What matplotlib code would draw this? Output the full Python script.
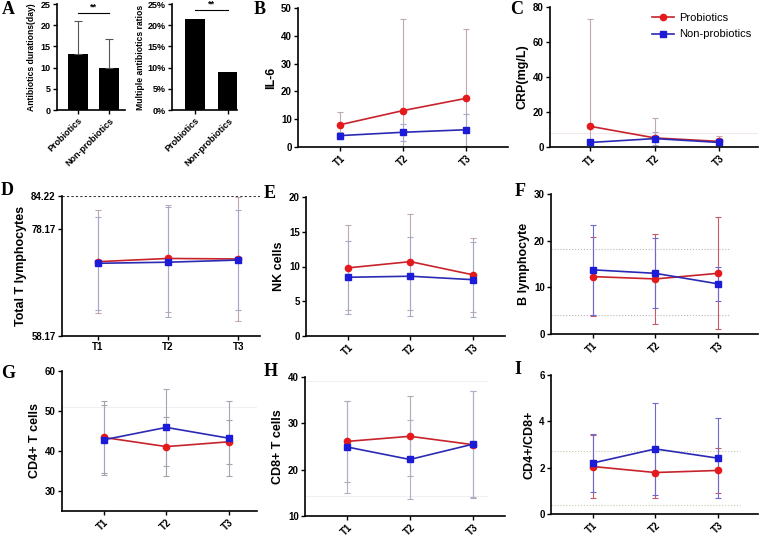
import matplotlib
matplotlib.use("Agg")
import matplotlib.pyplot as plt
import numpy as np

plt.rcParams['font.family'] = ['Liberation Sans', 'DejaVu Sans']
plt.rcParams['font.weight'] = 'bold'

W, H = 761, 536

groups = ['Probiotics', 'Non-probiotics']
times = ['T1', 'T2', 'T3']

# panel A
abx_days = [13.1, 9.9]
abx_days_sd = [8.0, 6.9]
multi_abx = [21.4, 9.0]

# panel B - IL-6
il6_pro = [8.0, 13.1, 17.5]
il6_pro_sd = [4.5, 32.9, 25.1]
il6_non = [4.1, 5.3, 6.2]
il6_non_sd = [1.2, 3.0, 5.8]

# panel C - CRP
crp_pro = [11.8, 5.2, 3.2]
crp_pro_sd = [61.5, 11.3, 2.9]
crp_non = [2.6, 4.8, 2.6]
crp_non_sd = [1.5, 3.8, 1.5]

# panel D - total T lymphocytes
tl_pro = [72.0, 72.6, 72.5]
tl_pro_sd = [9.6, 9.9, 11.6]
tl_non = [71.7, 71.9, 72.3]
tl_non_sd = [8.7, 10.2, 9.3]

# panel E - NK
nk_pro = [9.8, 10.7, 8.8]
nk_pro_sd = [6.1, 6.9, 5.3]
nk_non = [8.45, 8.6, 8.1]
nk_non_sd = [5.25, 5.7, 5.4]

# panel F - B lymphocyte
bl_pro = [12.3, 11.8, 13.0]
bl_pro_sd = [8.4, 9.6, 12.0]
bl_non = [13.75, 13.0, 10.75]
bl_non_sd = [9.65, 7.5, 3.7]

# panel G - CD4+
cd4_pro = [43.4, 41.1, 42.3]
cd4_pro_sd = [9.0, 7.4, 5.5]
cd4_non = [42.8, 45.9, 43.2]
cd4_non_sd = [8.7, 9.6, 9.4]

# panel H - CD8+
cd8_pro = [26.1, 27.2, 25.4]
cd8_pro_sd = [8.8, 8.6, 11.6]
cd8_non = [24.9, 22.2, 25.5]
cd8_non_sd = [9.9, 8.6, 11.5]

# panel I - CD4+/CD8+
ratio_pro = [2.05, 1.79, 1.88]
ratio_pro_sd = [1.35, 1.1, 0.96]
ratio_non = [2.2, 2.81, 2.41]
ratio_non_sd = [1.27, 1.97, 1.73]

RED_L, RED_M = '#c8232c', '#e41a1c'
BLUE_L, BLUE_M = '#2a2ab4', '#1c1cd8'
RED_E, BLUE_E = '#c85a66', '#6a6ad0'
GREY_RE, GREY_BE = '#c0a8b0', '#aaa8c8'

fig = plt.figure(figsize=(W / 100, H / 100), dpi=100)


def make_ax(x0, x1, yt, yb):
    ax = fig.add_axes([x0 / W, 1 - yb / H, (x1 - x0) / W, (yb - yt) / H])
    for s in ['top', 'right']:
        ax.spines[s].set_visible(False)
    for s in ['left', 'bottom']:
        ax.spines[s].set_linewidth(1.2)
    ax.tick_params(width=1.0, length=3, labelsize=7, pad=1.5)
    return ax


def panel_letter(x, y, s):
    fig.text(x / W, 1 - y / H, s, family='Liberation Serif', fontsize=13,
             fontweight='bold', ha='center', va='center')


def line_panel(ax, pro, pro_sd, non, non_sd, ylim, yticks, ylabel, xlim,
               ecols=(GREY_RE, GREY_BE), rotate=True, refs=(), ref_style=':',
               ref_color='#b0b0b0', ref_end=None):
    x = np.arange(1, 4)
    for r in refs:
        ax.plot([xlim[0], ref_end if ref_end else xlim[1]], [r, r], ls=ref_style,
                color=ref_color, lw=0.8, zorder=0)
    ax.errorbar(x, pro, yerr=pro_sd, fmt='none', ecolor=ecols[0],
                elinewidth=0.8, capsize=2.5, capthick=0.8, zorder=1)
    ax.errorbar(x, non, yerr=non_sd, fmt='none', ecolor=ecols[1],
                elinewidth=0.8, capsize=2.5, capthick=0.8, zorder=1)
    ax.plot(x, pro, color=RED_L, lw=1.2, marker='o', ms=4.5, mfc=RED_M, mec=RED_M,
            zorder=3, label=groups[0])
    ax.plot(x, non, color=BLUE_L, lw=1.2, marker='s', ms=4.3, mfc=BLUE_M, mec=BLUE_M,
            zorder=3, label=groups[1])
    ax.set_xlim(*xlim)
    ax.set_ylim(*ylim)
    ax.set_yticks(yticks)
    ax.set_xticks(x)
    if rotate:
        ax.set_xticklabels(times, rotation=45, ha='right', rotation_mode='anchor')
    else:
        ax.set_xticklabels(times)
    ax.set_ylabel(ylabel, fontsize=9, fontweight='bold', labelpad=3)


# ---- A left
ax = make_ax(57, 125, 4, 110)
ax.bar([0, 1], abx_days, width=0.65, color='black')
ax.errorbar([0, 1], abx_days, yerr=[[0, 0], abx_days_sd], fmt='none', ecolor='#555555',
            elinewidth=0.8, capsize=3, capthick=0.8)
ax.plot([0, 1], [22.9, 22.9], color='black', lw=0.8)
ax.text(0.5, 23.3, '**', ha='center', va='bottom', fontsize=6.5)
ax.set_xlim(-0.68, 1.52)
ax.set_ylim(0, 25)
ax.set_yticks([0, 5, 10, 15, 20, 25])
ax.set_xticks([0, 1])
ax.set_xticklabels(groups, rotation=45, ha='right', rotation_mode='anchor')
ax.tick_params(labelsize=6.5)
ax.set_ylabel('Antibiotics durations(day)', fontsize=6.2, fontweight='bold', labelpad=3)

# ---- A right
ax = make_ax(172, 237, 4, 110)
ax.bar([0, 1], multi_abx, width=0.6, color='black')
ax.plot([0, 1], [23.6, 23.6], color='black', lw=0.8)
ax.text(0.5, 23.9, '**', ha='center', va='bottom', fontsize=6.5)
ax.set_xlim(-0.7, 1.27)
ax.set_ylim(0, 25)
ax.set_yticks([0, 5, 10, 15, 20, 25])
ax.set_yticklabels(['0%', '5%', '10%', '15%', '20%', '25%'])
ax.set_xticks([0, 1])
ax.set_xticklabels(groups, rotation=45, ha='right', rotation_mode='anchor')
ax.tick_params(labelsize=6.5)
ax.set_ylabel('Multiple antibiotics ratios', fontsize=6.2, fontweight='bold', labelpad=2)
panel_letter(8, 10, 'A')

# ---- B
ax = make_ax(298, 508, 8, 147)
line_panel(ax, il6_pro, il6_pro_sd, il6_non, il6_non_sd, (0, 50), [0, 10, 20, 30, 40, 50],
           'IL-6', (1 / 3, 11 / 3))
panel_letter(260, 10, 'B')

# ---- C
ax = make_ax(550, 758, 7, 147)
line_panel(ax, crp_pro, crp_pro_sd, crp_non, crp_non_sd, (0, 80), [0, 20, 40, 60, 80],
           'CRP(mg/L)', (0.375, 3.6), refs=[8.0], ref_style='-', ref_color='#f2eaea')
ax.legend(loc='upper left', bbox_to_anchor=(0.44, 1.03), frameon=False,
          handlelength=2.0, handletextpad=0.5, labelspacing=0.6,
          prop={'weight': 'normal', 'size': 8})
panel_letter(517, 10, 'C')

# ---- D
ax = make_ax(62, 260, 196, 336)
line_panel(ax, tl_pro, tl_pro_sd, tl_non, tl_non_sd, (58.17, 84.22), [58.17, 78.17, 84.22],
           'Total T lymphocytes', (0.49, 3.31), rotate=False,
           refs=[84.22], ref_style=(0, (2, 2)), ref_color='#333333')
ax.set_yticklabels(['58.17', '78.17', '84.22'])
panel_letter(7, 190, 'D')

# ---- E
ax = make_ax(306, 505, 197, 336)
line_panel(ax, nk_pro, nk_pro_sd, nk_non, nk_non_sd, (0, 20), [0, 5, 10, 15, 20],
           'NK cells', (1 / 3, 3.51))
panel_letter(270, 194, 'E')

# ---- F
ax = make_ax(551, 758, 194, 334)
line_panel(ax, bl_pro, bl_pro_sd, bl_non, bl_non_sd, (0, 30), [0, 10, 20, 30],
           'B lymphocyte', (1 / 3, 3.64), ecols=(RED_E, BLUE_E), refs=[18.2, 4.0],
           ref_color='#b8b8b8', ref_end=3.19)
panel_letter(520, 192, 'F')

# ---- G
ax = make_ax(62, 257, 371, 511)
line_panel(ax, cd4_pro, cd4_pro_sd, cd4_non, cd4_non_sd, (25, 60), [30, 40, 50, 60],
           'CD4+ T cells', (1 / 3, 3.45), ecols=('#a8a0a4', '#a4a4b4'), refs=[51.1],
           ref_style='-', ref_color='#f0f0f0')
panel_letter(8, 373, 'G')

# ---- H
ax = make_ax(305, 505, 377, 516)
line_panel(ax, cd8_pro, cd8_pro_sd, cd8_non, cd8_non_sd, (10, 40), [10, 20, 30, 40],
           'CD8+ T cells', (1 / 3, 3.51), ecols=('#b4a8b4', '#b0b0c8'), refs=[39.1, 14.3],
           ref_style='-', ref_color='#f0f0f0', ref_end=3.22)
panel_letter(271, 371, 'H')

# ---- I
ax = make_ax(551, 758, 375, 514)
line_panel(ax, ratio_pro, ratio_pro_sd, ratio_non, ratio_non_sd, (0, 6), [0, 2, 4, 6],
           'CD4+/CD8+', (1 / 3, 3.64), ecols=(RED_E, BLUE_E), refs=[2.72, 0.4],
           ref_color='#c8c8a8', ref_end=3.35)
panel_letter(518, 370, 'I')

fig.savefig('out.png', dpi=100)
